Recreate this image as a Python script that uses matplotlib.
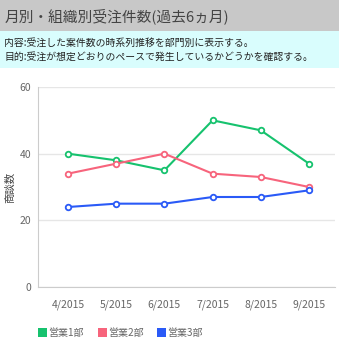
import matplotlib
matplotlib.use("Agg")
import matplotlib.pyplot as plt
from matplotlib.patches import Rectangle

plt.rcParams['font.family'] = ['Noto Sans CJK JP', 'DejaVu Sans']

months = ["4/2015", "5/2015", "6/2015", "7/2015", "8/2015", "9/2015"]
dept1 = [40, 38, 35, 50, 47, 37]
dept2 = [34, 37, 40, 34, 33, 30]
dept3 = [24, 25, 25, 27, 27, 29]
series_names = ["営業1部", "営業2部", "営業3部"]
colors = ["#16c26e", "#f7647c", "#2a5af7"]
yticks = [0, 20, 40, 60]

title = "月別・組織別受注件数(過去6ヵ月)"
line1 = "内容:受注した案件数の時系列推移を部門別に表示する。"
line2 = "目的:受注が想定どおりのペースで発生しているかどうかを確認する。"

W, H = 339, 340
fig = plt.figure(figsize=(W / 100, H / 100), dpi=100)

# header bands
fig.patches.append(Rectangle((0, 1 - 31 / H), 1, 31 / H, transform=fig.transFigure,
                             facecolor="#c8c8c8", edgecolor="none", zorder=0))
fig.patches.append(Rectangle((0, 1 - 68 / H), 1, 37 / H, transform=fig.transFigure,
                             facecolor="#d9fdfd", edgecolor="none", zorder=0))
fig.text(5 / W, 1 - 16 / H, title, fontsize=10.6, color="#444444", va="center", ha="left")
fig.text(4 / W, 1 - 43 / H, line1, fontsize=7.1, color="#222222", va="center", ha="left")
fig.text(4 / W, 1 - 57 / H, line2, fontsize=7.1, color="#222222", va="center", ha="left")

# plot area
left, right, top, bottom = 38, 335, 87, 287
ax = fig.add_axes([left / W, 1 - bottom / H, (right - left) / W, (bottom - top) / H])
x = list(range(len(months)))
for vals, c in zip([dept1, dept2, dept3], colors):
    ax.plot(x, vals, color=c, lw=1.5, marker="o", markersize=4,
            markerfacecolor="white", markeredgecolor=c, markeredgewidth=1.3, zorder=3)

ax.set_ylim(0, 60)
ax.set_xlim(-30 / 48.2, 5 + 26 / 48.2)
ax.set_yticks(yticks)
ax.set_xticks(x)
ax.set_xticklabels(months)
ax.tick_params(axis="both", length=0, labelsize=7.5, labelcolor="#666666")
ax.tick_params(axis="x", pad=9)
ax.tick_params(axis="y", pad=5)
ax.grid(axis="y", color="#e6e6e6", lw=1)
ax.set_axisbelow(True)
for s in ["top", "right"]:
    ax.spines[s].set_visible(False)
ax.spines["left"].set_color("#cccccc")
ax.spines["bottom"].set_color("#cccccc")
fig.text(10 / W, 1 - 187 / H, "商談数", fontsize=7.5, color="#444444",
         rotation=90, va="center", ha="center")

# legend
leg_x = [38, 98, 157]
for lx, name, c in zip(leg_x, series_names, colors):
    fig.patches.append(Rectangle((lx / W, 1 - 337 / H), 9 / W, 9 / H, transform=fig.transFigure,
                                 facecolor=c, edgecolor="none"))
    fig.text((lx + 10) / W, 1 - 333 / H, name, fontsize=7.2, color="#666666",
             va="center", ha="left")

fig.savefig("out.png", dpi=100)
